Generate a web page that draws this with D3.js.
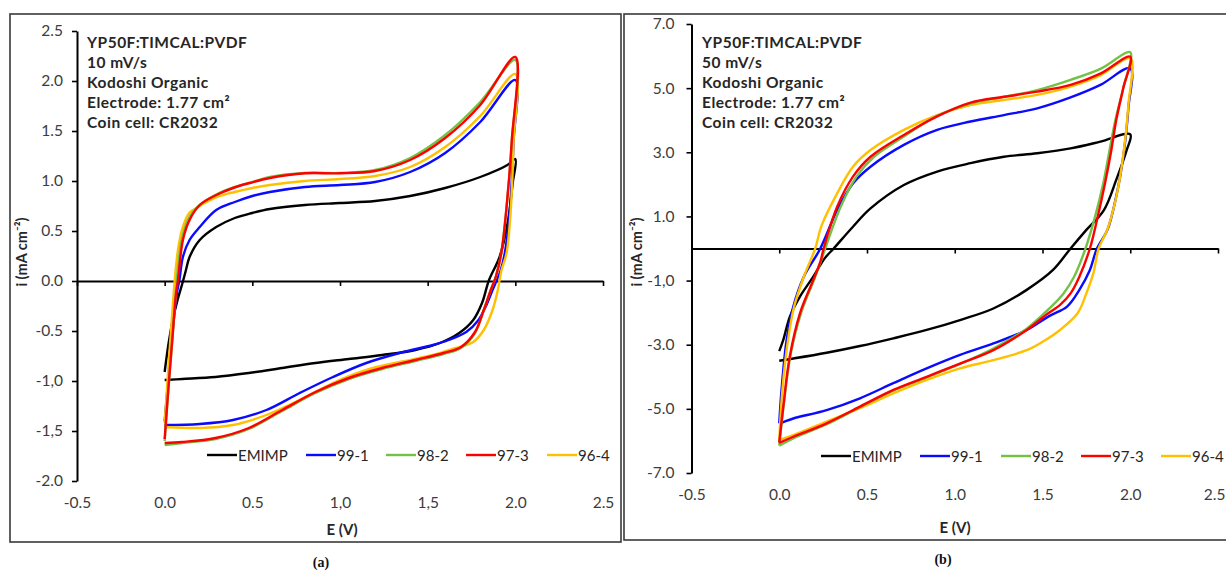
<!DOCTYPE html>
<html><head><meta charset="utf-8">
<script src="https://cdn.jsdelivr.net/npm/d3@7"></script>
<style>
html,body{margin:0;padding:0;background:#fff;}
svg{display:block;font-family:Lato,"Open Sans",sans-serif;}
</style></head>
<body>
<svg id="c" width="1226" height="572"></svg>
<script>
// ---------- data ----------
const seriesNames = ["EMIMP", "99-1", "98-2", "97-3", "96-4"];
const seriesColors = ["#000000", "#0a0aff", "#72c246", "#ff0000", "#ffc000"];

const xTicks = [-0.5, 0.0, 0.5, 1.0, 1.5, 2.0, 2.5];
const xLabelsA = ["-0.5", "0.0", "0.5", "1,0", "1,5", "2.0", "2.5"];
const xLabelsB = ["-0.5", "0.0", "0.5", "1.0", "1.5", "2.0", "2.5"];
const yTicksA = [2.5, 2.0, 1.5, 1.0, 0.5, 0.0, -0.5, -1.0, -1.5, -2.0];
const yLabelsA = ["2.5", "2.0", "1.5", "1.0", "0.5", "0.0", "-0.5", "-1,0", "-1,5", "-2.0"];
const yTicksB = [7, 5, 3, 1, -1, -3, -5, -7];
const yLabelsB = ["7.0", "5.0", "3.0", "1.0", "-1,0", "-3.0", "-5.0", "-7.0"];

const notesA = ["YP50F:TIMCAL:PVDF", "10 mV/s", "Kodoshi Organic", "Electrode: 1.77 cm²", "Coin cell: CR2032"];
const notesB = ["YP50F:TIMCAL:PVDF", "50 mV/s", "Kodoshi Organic", "Electrode: 1.77 cm²", "Coin cell: CR2032"];

// (a) 10 mV/s : [E (V), i (mA cm-2)], forward scan then reverse scan
const emimpA = [[0,-0.91],[0.02,-0.65],[0.045,-0.4],[0.075,-0.18],[0.1,-0.03],[0.12,0.1],[0.142,0.24],[0.2,0.41],[0.294,0.54],[0.4,0.63],[0.5,0.68],[0.6,0.72],[0.8,0.76],[1.0,0.78],[1.2,0.8],[1.4,0.85],[1.6,0.93],[1.8,1.04],[1.955,1.16],[2.0,1.22],
  [1.985,0.98],[1.956,0.58],[1.91,0.24],[1.85,0.01],[1.81,-0.22],[1.76,-0.39],[1.68,-0.52],[1.57,-0.62],[1.43,-0.69],[1.24,-0.74],[1.05,-0.78],[0.86,-0.82],[0.67,-0.87],[0.48,-0.92],[0.29,-0.96],[0.1,-0.98],[0,-0.99]];
const s991A = [[0,-1.40],[0.025,-0.9],[0.05,-0.42],[0.07,-0.12],[0.085,0.02],[0.104,0.24],[0.142,0.41],[0.2,0.54],[0.294,0.71],[0.4,0.79],[0.5,0.85],[0.6,0.89],[0.8,0.94],[1.0,0.96],[1.2,0.99],[1.4,1.09],[1.6,1.28],[1.8,1.59],[2.0,2.01],
  [1.99,1.4],[1.97,0.74],[1.94,0.28],[1.915,0.1],[1.87,-0.09],[1.83,-0.26],[1.79,-0.39],[1.72,-0.51],[1.62,-0.59],[1.53,-0.64],[1.34,-0.72],[1.15,-0.82],[0.96,-0.96],[0.77,-1.12],[0.58,-1.29],[0.39,-1.39],[0.2,-1.43],[0,-1.44]];
const s982A = [[0,-1.60],[0.02,-1.12],[0.045,-0.56],[0.065,-0.1],[0.074,0.1],[0.098,0.42],[0.135,0.62],[0.2,0.76],[0.3,0.87],[0.4,0.94],[0.5,0.99],[0.6,1.04],[0.8,1.08],[1.0,1.08],[1.2,1.11],[1.4,1.23],[1.6,1.46],[1.8,1.79],[2.0,2.21],
  [1.98,1.4],[1.95,0.74],[1.92,0.28],[1.89,0.05],[1.86,-0.09],[1.82,-0.29],[1.77,-0.52],[1.69,-0.67],[1.59,-0.73],[1.43,-0.80],[1.24,-0.88],[1.05,-0.98],[0.86,-1.12],[0.67,-1.3],[0.48,-1.48],[0.29,-1.58],[0.1,-1.62],[0,-1.64]];
const s973A = [[0,-1.58],[0.02,-1.1],[0.045,-0.55],[0.065,-0.12],[0.076,0.01],[0.104,0.41],[0.142,0.61],[0.2,0.76],[0.295,0.86],[0.39,0.93],[0.485,0.98],[0.6,1.03],[0.8,1.077],[1.0,1.077],[1.2,1.1],[1.4,1.21],[1.6,1.43],[1.8,1.76],[2.0,2.24],
  [1.98,1.41],[1.95,0.74],[1.92,0.28],[1.89,0.05],[1.86,-0.09],[1.82,-0.29],[1.77,-0.51],[1.69,-0.66],[1.59,-0.72],[1.43,-0.79],[1.24,-0.87],[1.05,-0.97],[0.86,-1.11],[0.67,-1.29],[0.48,-1.47],[0.29,-1.57],[0.1,-1.61],[0,-1.62]];
const s964A = [[0,-1.42],[0.02,-0.9],[0.04,-0.4],[0.057,0.0],[0.075,0.3],[0.1,0.52],[0.14,0.68],[0.2,0.75],[0.3,0.84],[0.4,0.89],[0.5,0.93],[0.6,0.96],[0.8,1.0],[1.0,1.02],[1.2,1.05],[1.4,1.14],[1.6,1.34],[1.8,1.65],[2.0,2.07],
  [1.99,1.4],[1.975,0.74],[1.95,0.28],[1.92,0.1],[1.90,-0.09],[1.87,-0.29],[1.82,-0.49],[1.76,-0.61],[1.66,-0.67],[1.53,-0.74],[1.34,-0.81],[1.15,-0.89],[0.96,-1.02],[0.77,-1.19],[0.58,-1.34],[0.39,-1.44],[0.2,-1.47],[0,-1.46]];

// (b) 50 mV/s
const emimpB = [[0,-3.2],[0.023,-2.85],[0.06,-2.13],[0.118,-1.5],[0.194,-0.88],[0.26,-0.3],[0.31,0.0],[0.42,0.68],[0.52,1.25],[0.71,1.98],[0.9,2.4],[1.09,2.66],[1.28,2.86],[1.47,2.97],[1.66,3.12],[1.83,3.33],[2.0,3.56],
  [1.98,3.07],[1.92,2.14],[1.85,1.2],[1.75,0.58],[1.66,0.0],[1.56,-0.67],[1.41,-1.29],[1.22,-1.87],[1.03,-2.23],[0.84,-2.54],[0.65,-2.8],[0.46,-3.04],[0.27,-3.25],[0.08,-3.43],[0,-3.5]];
const s991B = [[0,-5.45],[0.013,-4.41],[0.042,-2.85],[0.08,-1.81],[0.14,-0.88],[0.234,0.0],[0.33,1.2],[0.42,2.03],[0.52,2.55],[0.71,3.23],[0.9,3.7],[1.09,3.96],[1.28,4.16],[1.47,4.37],[1.66,4.71],[1.83,5.1],[2.0,5.62],
  [1.99,4.42],[1.96,2.86],[1.92,1.62],[1.87,0.58],[1.81,0.0],[1.77,-0.67],[1.71,-1.29],[1.64,-1.81],[1.54,-2.1],[1.41,-2.54],[1.22,-2.96],[1.03,-3.32],[0.84,-3.74],[0.65,-4.2],[0.46,-4.67],[0.27,-5.04],[0.08,-5.3],[0.03,-5.4],[0,-5.47]];
const s982B = [[0,-6.15],[0.025,-4.9],[0.065,-3.3],[0.125,-2.0],[0.2,-0.95],[0.24,-0.35],[0.262,0.0],[0.35,1.3],[0.44,2.24],[0.54,2.86],[0.71,3.49],[0.9,4.14],[1.09,4.52],[1.28,4.73],[1.47,4.94],[1.66,5.26],[1.83,5.6],[2.0,6.12],
  [1.96,5.0],[1.915,4.0],[1.88,3.0],[1.845,2.0],[1.80,1.0],[1.745,0.0],[1.68,-0.88],[1.62,-1.4],[1.56,-1.76],[1.5,-2.07],[1.41,-2.5],[1.22,-3.12],[1.03,-3.6],[0.84,-4.02],[0.65,-4.43],[0.46,-4.95],[0.27,-5.48],[0.08,-5.92],[0,-6.15]];
const s973B = [[0,-6.05],[0.023,-4.93],[0.06,-3.37],[0.118,-2.02],[0.194,-0.98],[0.235,-0.4],[0.253,0.0],[0.33,1.3],[0.42,2.24],[0.52,2.86],[0.71,3.54],[0.9,4.12],[1.09,4.55],[1.28,4.73],[1.47,4.89],[1.66,5.1],[1.83,5.45],[2.0,5.98],
  [1.96,5.0],[1.92,4.0],[1.89,3.0],[1.855,2.0],[1.815,1.0],[1.77,0.0],[1.71,-0.88],[1.66,-1.4],[1.6,-1.76],[1.52,-2.07],[1.41,-2.54],[1.22,-3.17],[1.03,-3.59],[0.84,-4.0],[0.65,-4.41],[0.46,-4.93],[0.27,-5.45],[0.08,-5.87],[0,-6.06]];
const s964B = [[0,-6.0],[0.018,-4.41],[0.05,-2.85],[0.085,-1.81],[0.14,-0.88],[0.205,0.0],[0.24,0.7],[0.33,1.72],[0.42,2.55],[0.52,3.07],[0.71,3.70],[0.9,4.16],[1.09,4.47],[1.28,4.63],[1.47,4.79],[1.66,5.05],[1.83,5.4],[2.0,5.93],
  [1.99,4.5],[1.96,2.9],[1.92,1.6],[1.87,0.6],[1.82,0.0],[1.79,-0.77],[1.75,-1.4],[1.7,-2.02],[1.6,-2.54],[1.5,-2.91],[1.41,-3.17],[1.22,-3.48],[1.03,-3.74],[0.84,-4.1],[0.65,-4.52],[0.46,-4.98],[0.27,-5.4],[0.08,-5.82],[0,-5.97]];

const seriesA = [emimpA, s991A, s982A, s973A, s964A];
const seriesB = [emimpB, s991B, s982B, s973B, s964B];

// ---------- drawing ----------
const svg = d3.select("#c");
const FONT = 'Lato,"Open Sans",sans-serif';
const W = 1226;

function panel(cfg) {
  const g = svg.append("g");
  // frame
  g.append("rect").attr("x", cfg.frame[0]).attr("y", cfg.frame[1])
    .attr("width", cfg.frame[2]).attr("height", cfg.frame[3])
    .attr("fill", "none").attr("stroke", "#3a3a3a").attr("stroke-width", 1.6);

  const x = d3.scaleLinear().domain([-0.5, 2.5]).range(cfg.xr);
  const y = d3.scaleLinear().domain(cfg.yd).range(cfg.yr);

  // y axis
  const ya = g.append("g").attr("transform", `translate(${x(-0.5)},0)`)
    .call(d3.axisLeft(y).tickValues(cfg.yTicks).tickFormat((d, i) => cfg.yLabels[i]).tickSize(5).tickSizeOuter(0).tickPadding(cfg.yPad));
  ya.select(".domain").attr("stroke", "#000").attr("stroke-width", 2);
  ya.selectAll(".tick line").attr("stroke", "#000").attr("stroke-width", 1.6);
  ya.selectAll(".tick text").attr("font-family", FONT).attr("font-size", 15.5).attr("fill", "#3c3c3c");

  // x axis line at y=0
  const xa = g.append("g").attr("transform", `translate(0,${y(0)})`)
    .call(d3.axisBottom(x).tickValues(xTicks).tickFormat("").tickSize(5).tickSizeOuter(0));
  xa.select(".domain").attr("stroke", "#000").attr("stroke-width", 2);
  xa.selectAll(".tick line").attr("stroke", "#000").attr("stroke-width", 1.6);
  // x tick labels (low position)
  const xl = g.append("g").attr("transform", `translate(0,${cfg.xLabY})`)
    .call(d3.axisBottom(x).tickValues(xTicks).tickFormat((d, i) => cfg.xLabels[i]).tickSize(0).tickPadding(0));
  xl.select(".domain").remove();
  xl.selectAll(".tick text").attr("font-family", FONT).attr("font-size", 15.5).attr("fill", "#3c3c3c");
  // keep a label that would run past the page edge inside it
  xl.selectAll(".tick").each(function (d) {
    if (x(d) + 10 > W) d3.select(this).select("text").attr("text-anchor", "end").attr("x", W - 1 - x(d));
  });

  // series
  const line = d3.line().x(d => x(d[0])).y(d => y(d[1])).curve(d3.curveCatmullRom.alpha(0.5));
  const order = [0, 1, 4, 2, 3];
  order.forEach(k => {
    g.append("path").attr("d", line(cfg.series[k])).attr("fill", "none")
      .attr("stroke", seriesColors[k]).attr("stroke-width", 2.4).attr("stroke-linejoin", "round");
  });

  // annotation
  const t = g.append("text").attr("font-family", FONT).attr("font-size", 15.5).attr("font-weight", 700)
    .attr("letter-spacing", 0.5).attr("fill", "#262626");
  cfg.notes.forEach((s, i) => {
    t.append("tspan").attr("x", cfg.noteX).attr("y", 48 + i * 20).text(s);
  });

  // legend
  const lg = g.append("g");
  seriesNames.forEach((n, k) => {
    const lx = cfg.legX[k];
    lg.append("line").attr("x1", lx).attr("x2", lx + 30).attr("y1", cfg.legY).attr("y2", cfg.legY)
      .attr("stroke", seriesColors[k]).attr("stroke-width", 2.4);
    lg.append("text").attr("x", lx + 31).attr("y", cfg.legY + 5.5).attr("font-family", FONT)
      .attr("font-size", 15).attr("fill", "#262626").text(n);
  });

  // axis titles
  g.append("text").attr("transform", `translate(${cfg.yTitleX},252) rotate(-90)`).attr("text-anchor", "middle")
    .attr("font-family", FONT).attr("font-size", 14.5).attr("font-weight", 700).attr("fill", "#262626")
    .text("i (mA cm⁻²)");
  g.append("text").attr("x", cfg.xTitle[0]).attr("y", cfg.xTitle[1]).attr("text-anchor", "middle")
    .attr("font-family", FONT).attr("font-size", 15).attr("font-weight", 700).attr("fill", "#262626")
    .text("E (V)");
  g.append("text").attr("x", cfg.cap[0]).attr("y", cfg.cap[1]).attr("text-anchor", "middle")
    .attr("font-family", '"Liberation Serif","DejaVu Serif",serif').attr("font-size", 14).attr("font-weight", 700)
    .attr("fill", "#111").text(cfg.capText);
}

panel({
  frame: [10, 14, 611, 528], xr: [77, 603], yd: [-2, 2.5], yr: [481, 31],
  yTicks: yTicksA, yLabels: yLabelsA, xLabels: xLabelsA, yPad: 9, xLabY: 497,
  series: seriesA, notes: notesA, noteX: 87,
  legX: [207, 306, 386, 466, 547], legY: 455,
  yTitleX: 27, xTitle: [342, 535], cap: [321, 567], capText: "(a)"
});
panel({
  frame: [624, 14, 620, 526], xr: [691.5, 1218], yd: [-7, 7], yr: [473, 24],
  yTicks: yTicksB, yLabels: yLabelsB, xLabels: xLabelsB, yPad: 12, xLabY: 489,
  series: seriesB, notes: notesB, noteX: 702,
  legX: [821, 920, 1001, 1081, 1161], legY: 456,
  yTitleX: 642, xTitle: [955, 533], cap: [943, 564], capText: "(b)"
});
</script>
</body></html>
